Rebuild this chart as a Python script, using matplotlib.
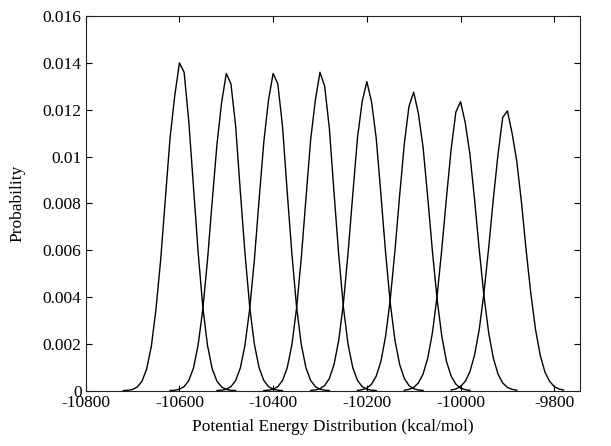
import matplotlib
matplotlib.use("Agg")
import matplotlib.pyplot as plt
from matplotlib.ticker import FuncFormatter

# peak positions of the eight distributions (kcal/mol)
centers = [-10600, -10500, -10400, -10300, -10200, -10100, -10000, -9900]
# sample offsets around each peak (kcal/mol)
offsets = [-120, -110, -100, -90, -80, -70, -60, -50, -40, -30, -20, -10, 0,
           10, 20, 30, 40, 50, 60, 70, 80, 90, 100, 110, 120]

prob_1 = [0.000004, 0.000016, 0.000054, 0.000156, 0.00040, 0.00092, 0.00189, 0.00349, 0.00560, 0.00820, 0.0108, 0.0126, 0.0140,
          0.0136, 0.0115, 0.00870, 0.00590, 0.00355, 0.00192, 0.00093, 0.00041, 0.00016, 0.000055, 0.000017, 0.000005]
prob_2 = [0.000006, 0.000021, 0.000063, 0.000174, 0.000435, 0.00097, 0.00196, 0.00350, 0.00560, 0.00810, 0.0105, 0.0123, 0.01355,
          0.0131, 0.0113, 0.00850, 0.00585, 0.00358, 0.00198, 0.00098, 0.00044, 0.000175, 0.000064, 0.000021, 0.000006]
prob_3 = [0.000006, 0.000021, 0.000063, 0.000174, 0.000435, 0.00097, 0.00196, 0.00350, 0.00560, 0.00815, 0.0106, 0.0124, 0.01355,
          0.0131, 0.0113, 0.00850, 0.00585, 0.00358, 0.00198, 0.00098, 0.00044, 0.000175, 0.000064, 0.000021, 0.000006]
prob_4 = [0.000006, 0.000021, 0.000063, 0.000174, 0.000435, 0.00097, 0.00196, 0.00352, 0.00565, 0.00820, 0.0107, 0.0124, 0.0136,
          0.0130, 0.0112, 0.00845, 0.00580, 0.00356, 0.00197, 0.00098, 0.00044, 0.000175, 0.000064, 0.000021, 0.000006]
prob_5 = [0.000010, 0.000031, 0.000086, 0.00022, 0.00052, 0.00112, 0.00215, 0.00374, 0.00590, 0.00839, 0.01079, 0.01235, 0.0132,
          0.01234, 0.01079, 0.00839, 0.00590, 0.00374, 0.00215, 0.00112, 0.00052, 0.00022, 0.000086, 0.000031, 0.000010]
prob_6 = [0.000014, 0.000042, 0.00011, 0.00028, 0.00062, 0.00125, 0.00232, 0.00390, 0.00598, 0.00833, 0.01055, 0.01215, 0.01275,
          0.01184, 0.01040, 0.00825, 0.00595, 0.00390, 0.00232, 0.00125, 0.00062, 0.00028, 0.00011, 0.000042, 0.000014]
prob_7 = [0.000020, 0.000057, 0.00014, 0.00033, 0.00071, 0.00139, 0.00248, 0.00405, 0.00605, 0.00826, 0.01033, 0.0119, 0.01234,
          0.01145, 0.01010, 0.00815, 0.00600, 0.00405, 0.00248, 0.00139, 0.00071, 0.00033, 0.00014, 0.000057, 0.000020]
prob_8 = [0.000028, 0.000074, 0.00018, 0.00040, 0.00081, 0.00153, 0.00263, 0.00418, 0.00610, 0.00819, 0.01010, 0.01167, 0.01195,
          0.0110, 0.00980, 0.00805, 0.00600, 0.00415, 0.00262, 0.00152, 0.00080, 0.00040, 0.00018, 0.000074, 0.000028]

series = [prob_1, prob_2, prob_3, prob_4, prob_5, prob_6, prob_7, prob_8]

x_ticks = [-10800, -10600, -10400, -10200, -10000, -9800]
y_ticks = [0, 0.002, 0.004, 0.006, 0.008, 0.01, 0.012, 0.014, 0.016]

plt.rcParams["font.family"] = ["Liberation Serif", "DejaVu Serif"]
plt.rcParams["font.size"] = 12.5

fig = plt.figure(figsize=(6.11, 4.46), dpi=100)
ax = fig.add_axes([0.1403, 0.124, 0.809, 0.840])

for center, probs in zip(centers, series):
    energies = [center + d for d in offsets]
    ax.plot(energies, probs, color="black", linewidth=1.0)

ax.set_xlim(-10800, -9745)
ax.set_ylim(0, 0.016)
ax.set_xticks(x_ticks)
ax.set_yticks(y_ticks)
ax.xaxis.set_major_formatter(FuncFormatter(lambda v, _: f"{v:g}"))
ax.yaxis.set_major_formatter(FuncFormatter(lambda v, _: f"{v:g}"))
ax.tick_params(direction="in", length=4, width=0.8, top=True, right=True,
               labelsize=12.5, pad=3)
for spine in ax.spines.values():
    spine.set_linewidth(0.8)
    spine.set_color("#222222")

ax.set_xlabel("Potential Energy Distribution (kcal/mol)", fontsize=12.5, labelpad=6)
ax.set_ylabel("Probability", fontsize=12.5, labelpad=12)

fig.savefig("out.png", dpi=100)
